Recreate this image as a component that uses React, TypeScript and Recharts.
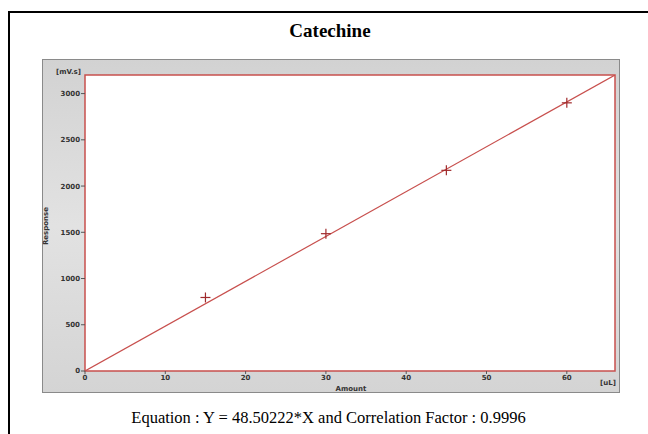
import React from "react";
import { ReferenceArea, Scatter, ScatterChart, XAxis, YAxis, CartesianGrid } from "recharts";

const amounts = [15, 30, 45, 60];
const responses = [795, 1485, 2170, 2900];
const fitAmounts = [0, 66];
const fitResponses = [0, 3201];
const xTicks = [0, 10, 20, 30, 40, 50, 60];
const yTicks = [0, 500, 1000, 1500, 2000, 2500, 3000];

const points = amounts.map((x, i) => ({ x, y: responses[i] }));
const fitLine = fitAmounts.map((x, i) => ({ x, y: fitResponses[i] }));

const RED = "#c8504e";
const tickFont = { fontFamily: "DejaVu Sans", fontSize: 7, fontWeight: 700, fill: "#333" };

function Cross(props: any) {
	const { cx, cy } = props;
	if (cx == null || cy == null) return <g />;
	return (
		<g stroke="#a02a2c" strokeWidth={1.2}>
			<line x1={cx - 5} y1={cy} x2={cx + 5} y2={cy} />
			<line x1={cx} y1={cy - 5} x2={cx} y2={cy + 5} />
		</g>
	);
}

const label = (extra: React.CSSProperties): React.CSSProperties => ({
	position: "absolute",
	fontFamily: "DejaVu Sans",
	fontSize: 7,
	fontWeight: 700,
	color: "#333",
	lineHeight: 1,
	whiteSpace: "nowrap",
	...extra,
});

export default function App() {
	return (
		<div style={{ position: "fixed", left: 0, top: 0, width: 648, height: 434, overflow: "hidden", background: "#fff" }}>
			{/* outer frame runs off the right and bottom edges */}
			<div
				style={{
					position: "absolute",
					left: 8,
					top: 11,
					width: 660,
					height: 440,
					borderTop: "2px solid #000",
					borderLeft: "2px solid #000",
				}}
			/>
			<div
				style={{
					position: "absolute",
					left: 42,
					top: 59,
					width: 576,
					height: 332,
					border: "1px solid #8a8a8a",
					background: "linear-gradient(#d2d2d2, #e2e2e2 50%, #d4d4d4)",
				}}
			/>
			<div
				style={{
					position: "absolute",
					left: 0,
					width: 660,
					top: 20,
					textAlign: "center",
					fontFamily: "Liberation Serif",
					fontWeight: 700,
					fontSize: 19,
				}}
			>
				Catechine
			</div>
			<div style={{ position: "absolute", left: 0, top: 0 }}>
				<ScatterChart width={648} height={434} margin={{ top: 75, right: 33, bottom: 43, left: 45 }}>
					<CartesianGrid fill="#fff" horizontal={false} vertical={false} />
					<XAxis
						type="number"
						dataKey="x"
						domain={[0, 66]}
						ticks={xTicks}
						height={20}
						allowDataOverflow
						axisLine={false}
						tickLine={{ stroke: "#555" }}
						tickSize={3}
						tickMargin={1}
						tick={tickFont}
					/>
					<YAxis
						type="number"
						dataKey="y"
						domain={[0, 3201]}
						ticks={yTicks}
						width={40}
						allowDataOverflow
						axisLine={false}
						tickLine={{ stroke: "#555" }}
						tickSize={4}
						tickMargin={1}
						tick={tickFont}
					/>
					<ReferenceArea x1={0} x2={66} y1={0} y2={3201} fill="none" stroke={RED} strokeWidth={1.5} fillOpacity={0} />
					<Scatter data={fitLine} line={{ stroke: RED, strokeWidth: 1.2 }} shape={() => <g />} isAnimationActive={false} />
					<Scatter data={points} shape={<Cross />} isAnimationActive={false} />
				</ScatterChart>
			</div>
			<div style={label({ right: 648 - 81, top: 69 })}>[mV.s]</div>
			<div style={label({ left: 46, top: 226, transform: "translate(-50%, -50%) rotate(-90deg)" })}>Response</div>
			<div style={label({ left: 351, top: 386, transform: "translateX(-50%)" })}>Amount</div>
			<div style={label({ left: 600, top: 380 })}>[uL]</div>
			<div
				style={{
					position: "absolute",
					left: 0,
					width: 657,
					top: 408,
					textAlign: "center",
					fontFamily: "Liberation Serif",
					fontSize: 16.5,
					whiteSpace: "nowrap",
				}}
			>
				Equation : Y = 48.50222*X and Correlation Factor : 0.9996
			</div>
		</div>
	);
}
